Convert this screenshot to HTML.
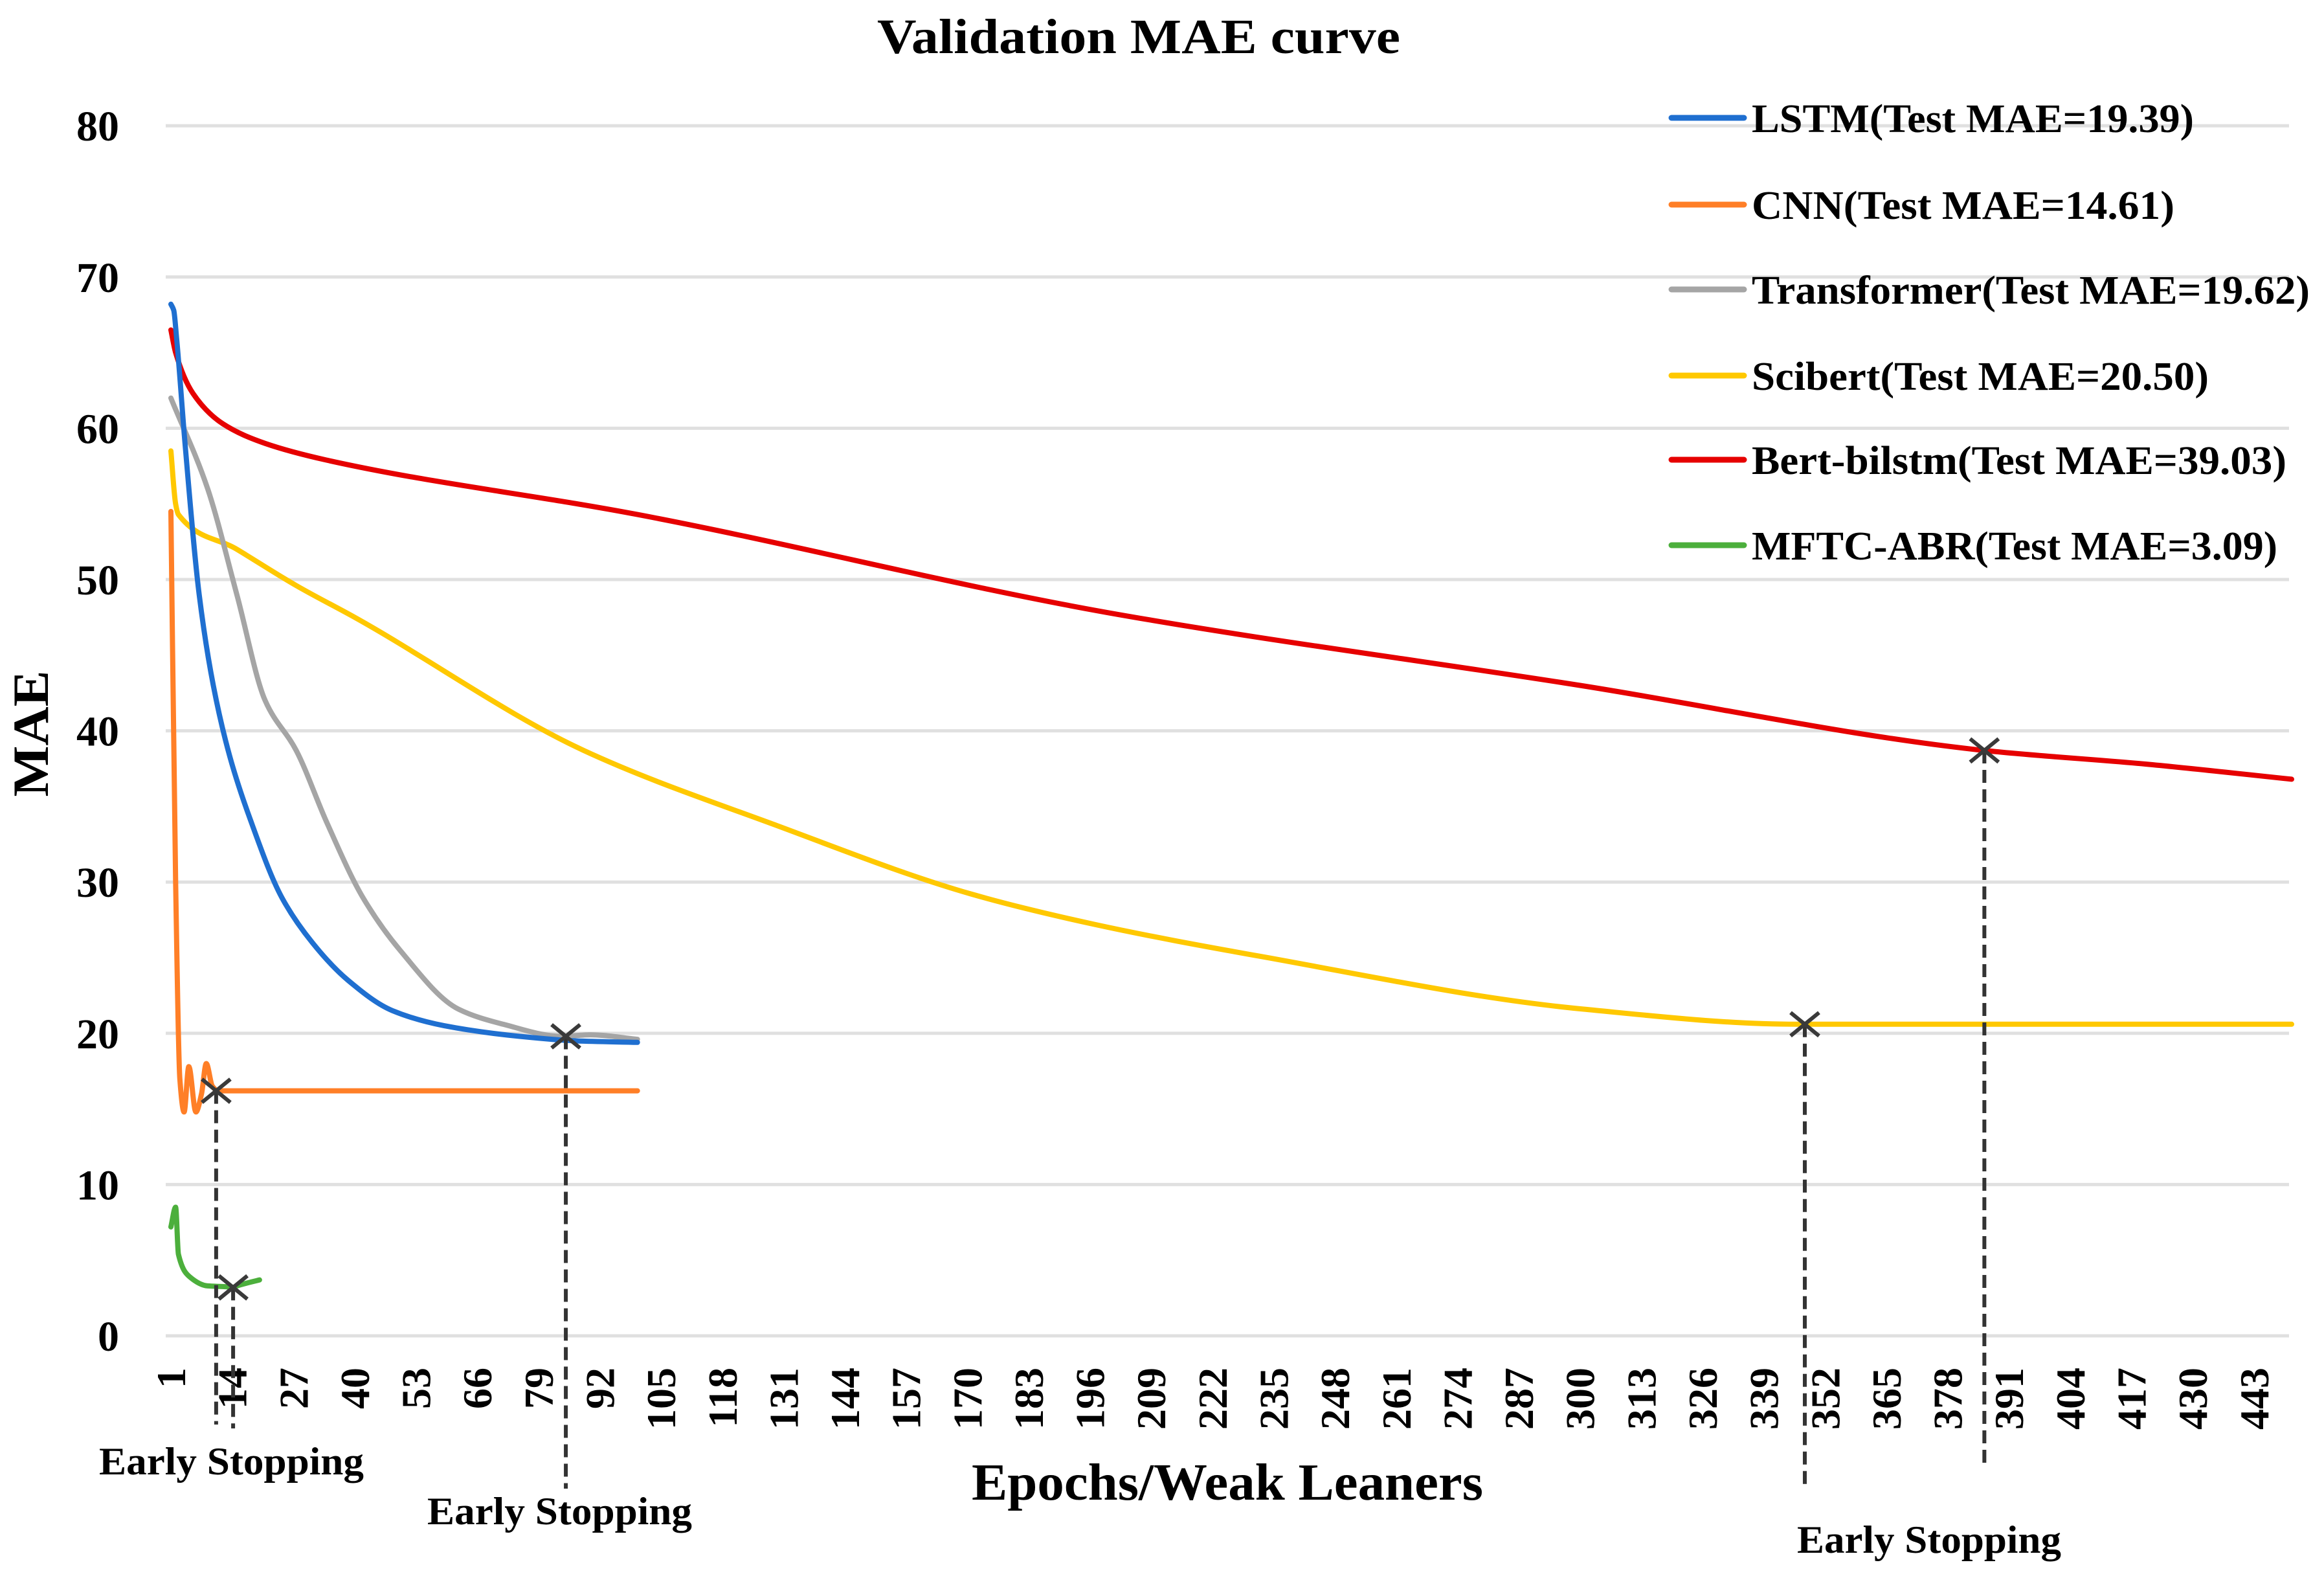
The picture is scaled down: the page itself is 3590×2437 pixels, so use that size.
<!DOCTYPE html>
<html><head><meta charset="utf-8"><style>
html,body{margin:0;padding:0;background:#fff;}
svg{display:block;font-family:"Liberation Serif",serif;}
</style></head><body>
<svg id="chart" width="3590" height="2437" viewBox="0 0 3590 2437" xmlns="http://www.w3.org/2000/svg">
<rect width="3590" height="2437" fill="#fff"/>
<g id="grid"></g>
<g id="yticks"></g>
<g id="xticks"></g>
<g id="series"></g>
<g id="stops"></g>
<text x="1759" y="82" text-anchor="middle" font-weight="bold" font-size="76" textLength="808" lengthAdjust="spacingAndGlyphs">Validation MAE curve</text>
<text transform="translate(74,1133) rotate(-90)" text-anchor="middle" font-weight="bold" font-size="78" textLength="195" lengthAdjust="spacingAndGlyphs">MAE</text>
<text x="1896" y="2316" text-anchor="middle" font-weight="bold" font-size="80" textLength="790" lengthAdjust="spacingAndGlyphs">Epochs/Weak Leaners</text>
<text x="153" y="2277" font-weight="bold" font-size="60" textLength="409" lengthAdjust="spacingAndGlyphs">Early Stopping</text>
<text x="660" y="2354" font-weight="bold" font-size="60" textLength="409" lengthAdjust="spacingAndGlyphs">Early Stopping</text>
<text x="2776" y="2398" font-weight="bold" font-size="60" textLength="408" lengthAdjust="spacingAndGlyphs">Early Stopping</text>
<g id="legend"></g>
</svg>
<script>
const yTicks = [0,10,20,30,40,50,60,70,80];
const xTickStart = 1, xTickStep = 13, xTickCount = 35;
const seriesNames = ["LSTM(Test MAE=19.39)","CNN(Test MAE=14.61)","Transformer(Test MAE=19.62)","Scibert(Test MAE=20.50)","Bert-bilstm(Test MAE=39.03)","MFTC-ABR(Test MAE=3.09)"];
const seriesColors = ["#1f6fd0","#ff7f27","#a5a5a5","#ffc800","#e60000","#4caf3c"];
const lstmEp  = [1,1.6,2.2,4,7,10,13.5,18,24.5,31,38.6,48,59,75,87,100];
const lstmVal = [68.2,67.8,66,59,49,43,38.3,34,29,26,23.5,21.5,20.5,19.8,19.5,19.4];
const cnnEp  = [1,2,2.9,3.8,4.8,6.3,7.5,8.5,9.8,11,100];
const cnnVal = [54.5,30,17,14.8,17.8,14.8,16,18,16.5,16.2,16.2];
const transEp  = [1,8.8,15,21,27.6,34,41.7,49.6,62,71.5,84,90,100];
const transVal = [62,56,49,42,38.7,34,29,25.5,21.6,20.6,19.8,19.9,19.6];
const sciEp  = [1,2,2.6,15,27.6,40,88.6,129,170.9,197,232,300.6,346,400,451];
const sciVal = [58.5,55,54.3,52,49.6,47.5,38.7,33.8,29.2,27.2,25.1,21.6,20.6,20.6,20.6];
const bertEp  = [1,2,5.7,12,21,34,100,200,300,385.8,420,451];
const bertVal = [66.5,65,62.3,60.3,59,57.9,54.3,47.8,43.0,38.7,37.8,36.8];
const mftcEp  = [1,2,2.6,5,8.8,12.6,14.2,15,19.8];
const mftcVal = [7.2,8.5,5.4,3.9,3.3,3.25,3.2,3.3,3.7];
const stopEp  = [10.6,14.2,84.8,347.7,385.8];
const stopVal = [16.2,3.2,19.8,20.6,38.7];
const stopDashEnd = [2200,2206,2299,2301,2265];

const NS="http://www.w3.org/2000/svg";
const X0=264, XS=7.28, Y0=2063, YS=23.36, GL=256, GR=3536;
const xs = e => X0 + (e-1)*XS;
const ys = v => Y0 - v*YS;
function mk(tag, parent){ const el=document.createElementNS(NS,tag); parent.appendChild(el); return el; }

const grid=document.getElementById('grid'), yt=document.getElementById('yticks');
yTicks.forEach(t=>{
  const l=mk('line',grid);
  
  
  l.setAttribute('x1',GL); l.setAttribute('x2',GR); l.setAttribute('y1',ys(t)); l.setAttribute('y2',ys(t));
  l.setAttribute('stroke','#e0e0e0'); l.setAttribute('stroke-width','5');
  const tx=mk('text',yt);
  
  
  tx.setAttribute('x',184); tx.setAttribute('y',ys(t)+23); tx.setAttribute('text-anchor','end');
  tx.setAttribute('font-size','66'); tx.setAttribute('font-weight','bold');
  tx.textContent=t;
});
const xt=document.getElementById('xticks');
for(let i=0;i<xTickCount;i++){
  const e=xTickStart+i*xTickStep;
  const tx=mk('text',xt);
  
  
  tx.setAttribute('transform','translate('+(xs(e)+22)+',2112) rotate(-90)');
  tx.setAttribute('text-anchor','end'); tx.setAttribute('font-size','64'); tx.setAttribute('font-weight','bold');
  tx.textContent=e;
}
function pathFrom(ep,val){
  const X=ep.map(xs), Y=val.map(ys), n=X.length;
  const d=[], m=new Array(n);
  for(let i=0;i<n-1;i++) d.push((Y[i+1]-Y[i])/(X[i+1]-X[i]));
  m[0]=d[0]; m[n-1]=d[n-2];
  for(let i=1;i<n-1;i++){
    if(d[i-1]*d[i]<=0) m[i]=0;
    else { const w1=2*(X[i+1]-X[i])+(X[i]-X[i-1]), w2=(X[i+1]-X[i])+2*(X[i]-X[i-1]);
      m[i]=(w1+w2)/(w1/d[i-1]+w2/d[i]); }
  }
  let s='M'+X[0].toFixed(1)+','+Y[0].toFixed(1);
  for(let i=0;i<n-1;i++){
    const h=X[i+1]-X[i];
    s+=' C'+(X[i]+h/3).toFixed(1)+','+(Y[i]+m[i]*h/3).toFixed(1)+' '+(X[i+1]-h/3).toFixed(1)+','+(Y[i+1]-m[i+1]*h/3).toFixed(1)+' '+X[i+1].toFixed(1)+','+Y[i+1].toFixed(1);
  }
  return s;
}
const sg=document.getElementById('series');
const allEp=[lstmEp,cnnEp,transEp,sciEp,bertEp,mftcEp], allVal=[lstmVal,cnnVal,transVal,sciVal,bertVal,mftcVal];
const sNames=['lstm-line','cnn-line','transformer-line','scibert-line','bert-bilstm-line','mftc-abr-line'];
[4,3,2,0,1,5].forEach(k=>{
  const p=mk('path',sg);
  
  
  p.setAttribute('d',pathFrom(allEp[k],allVal[k]));
  p.setAttribute('fill','none'); p.setAttribute('stroke',seriesColors[k]);
  p.setAttribute('stroke-width','8'); p.setAttribute('stroke-linecap','round'); p.setAttribute('stroke-linejoin','round');
});
const st=document.getElementById('stops');
stopEp.forEach((e,i)=>{
  const x=xs(e), y=ys(stopVal[i]);
  const l=mk('line',st);
  
  
  l.setAttribute('x1',x); l.setAttribute('x2',x); l.setAttribute('y1',y); l.setAttribute('y2',stopDashEnd[i]);
  l.setAttribute('stroke','#333'); l.setAttribute('stroke-width','6'); l.setAttribute('stroke-dasharray','20 10');
  const m=mk('path',st);
  
  
  m.setAttribute('d','M'+(x-22)+','+(y-18)+' L'+(x+22)+','+(y+18)+' M'+(x-22)+','+(y+18)+' L'+(x+22)+','+(y-18));
  m.setAttribute('stroke','#3a3a3a'); m.setAttribute('stroke-width','6'); m.setAttribute('fill','none');
});
const lg=document.getElementById('legend');
const legY=[182,316,447,580,710,842], legW=[683,653,862,706,826,812];
seriesNames.forEach((n,i)=>{
  const l=mk('line',lg);
  
  
  l.setAttribute('x1',2582); l.setAttribute('x2',2694); l.setAttribute('y1',legY[i]); l.setAttribute('y2',legY[i]);
  l.setAttribute('stroke',seriesColors[i]); l.setAttribute('stroke-width','9'); l.setAttribute('stroke-linecap','round');
  const t=mk('text',lg);
  
  
  t.setAttribute('x',2706); t.setAttribute('y',legY[i]+22);
  t.setAttribute('font-size','62'); t.setAttribute('font-weight','bold');
  t.setAttribute('textLength',legW[i]); t.setAttribute('lengthAdjust','spacingAndGlyphs');
  t.textContent=n;
});
</script>
</body></html>
